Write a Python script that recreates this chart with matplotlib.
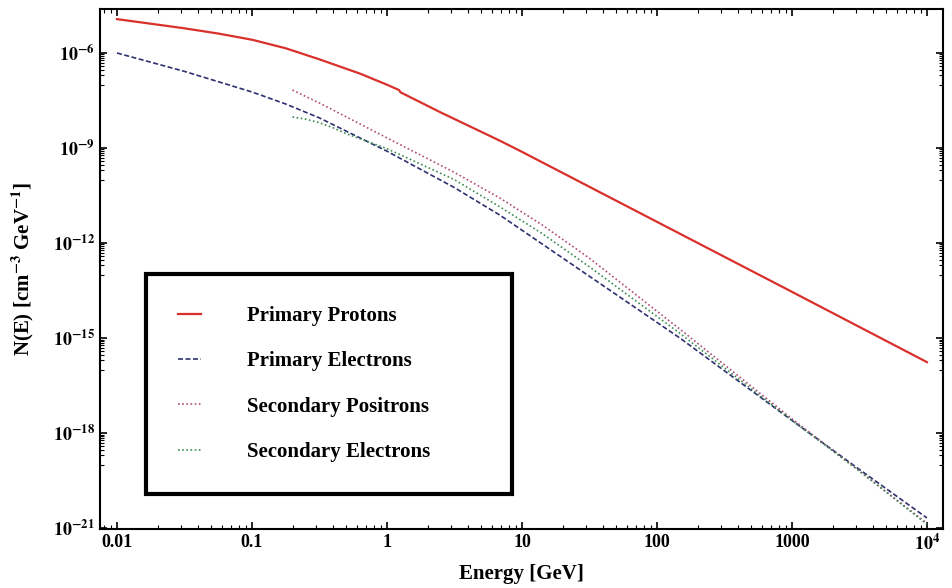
import numpy as np
import matplotlib
matplotlib.use('Agg')
import matplotlib.pyplot as plt
from matplotlib.ticker import FixedLocator, NullFormatter, LogLocator

# values, log10(E/GeV) and log10(N / cm^-3 GeV^-1)
logE_prot = [-2.0, -1.5, -1.25, -1.0, -0.75, -0.5, -0.2, 0.0, 0.09, 0.10, 0.4, 0.837, 1.0, 2.0, 3.0, 4.0]
logN_prot = [-4.93, -5.22, -5.385, -5.58, -5.85, -6.2, -6.65, -7.00, -7.17, -7.24, -7.88, -8.77, -9.12, -11.33, -13.54, -15.76]

logE_elec = [-2.0, -1.5, -1.0, -0.75, -0.5, 0.0, 0.5, 0.837, 1.5, 2.17, 3.0, 3.5, 4.0]
logN_elec = [-6.0, -6.58, -7.23, -7.61, -8.05, -9.1, -10.25, -11.12, -13.05, -15.0, -17.6, -19.15, -20.68]

logE_pos = [-0.7, -0.5, 0.0, 0.5, 0.837, 1.15, 1.5, 2.17, 3.0, 3.5, 4.0]
logN_pos = [-7.17, -7.58, -8.68, -9.77, -10.58, -11.43, -12.48, -14.72, -17.55, -19.2, -20.85]

logE_sec = [-0.7, -0.6, -0.5, -0.4, -0.3, 0.0, 0.5, 0.837, 1.15, 1.5, 2.17, 3.0, 3.5, 4.0]
logN_sec = [-8.02, -8.09, -8.2, -8.36, -8.55, -9.02, -10.0, -10.86, -11.7, -12.75, -14.85, -17.6, -19.2, -20.88]

labels = ['Primary Protons', 'Primary Electrons', 'Secondary Positrons', 'Secondary Electrons']

xticks = [0.01, 0.1, 1, 10, 100, 1000, 1e4]
xticklabels = ['0.01', '0.1', '1', '10', '100', '1000', r'$10^4$']
yexp = [-6, -9, -12, -15, -18, -21]

plt.rcParams['font.family'] = 'serif'
plt.rcParams['font.serif'] = ['Liberation Serif', 'DejaVu Serif']
plt.rcParams['mathtext.fontset'] = 'stix'
plt.rcParams['mathtext.default'] = 'bf'
plt.rcParams['font.weight'] = 'bold'

fig = plt.figure(figsize=(9.53, 5.88), dpi=100)
ax = fig.add_axes([0.1049, 0.1003, 0.8846, 0.8844])

ax.plot(10**np.array(logE_prot), 10**np.array(logN_prot), color='#d9302c', lw=1.6, label=labels[0])
ax.plot(10**np.array(logE_elec), 10**np.array(logN_elec), color='#2e3070', lw=1.2,
        dashes=(3, 1.5), label=labels[1])
ax.plot(10**np.array(logE_pos), 10**np.array(logN_pos), color='#b04a78', lw=1.2,
        dashes=(1, 1.5), label=labels[2])
ax.plot(10**np.array(logE_sec), 10**np.array(logN_sec), color='#3c8c50', lw=1.2,
        dashes=(1, 1.5), label=labels[3])

ax.set_xscale('log')
ax.set_yscale('log')
ax.set_xlim(10**-2.126, 10**4.119)
ax.set_ylim(10**-21.03, 10**-4.61)

ax.set_xticks(xticks)
ax.set_xticklabels(xticklabels)
ax.xaxis.set_minor_locator(LogLocator(base=10, subs=np.arange(2, 10), numticks=50))
ax.xaxis.set_minor_formatter(NullFormatter())

ax.set_yticks([10.0**k for k in yexp])
ax.set_yticklabels([r'$10^{%d}$' % k for k in yexp])
yminor = [m * 10.0**(k - 1) for k in yexp for m in range(2, 10)] + [10.0**(k - 1) for k in yexp]
ax.yaxis.set_minor_locator(FixedLocator(yminor))
ax.yaxis.set_minor_formatter(NullFormatter())

ax.tick_params(which='both', direction='in', top=True, right=True, labelsize=13)
ax.tick_params(which='major', length=5, width=1.2)
ax.tick_params(which='minor', length=3, width=0.8)
for s in ax.spines.values():
    s.set_linewidth(1.5)

ax.set_xlabel('Energy [GeV]', fontsize=15, fontweight='bold', labelpad=7)
ax.set_ylabel(r'N(E) [cm$^{-3}$ GeV$^{-1}$]', fontsize=15, fontweight='bold', labelpad=12)

leg = ax.legend(loc='lower left', bbox_to_anchor=(0.0546, 0.067, 0.4346, 0.427), mode='expand',
                fontsize=15, frameon=True, fancybox=False, framealpha=1, borderpad=1.55,
                labelspacing=1.21, handlelength=1.1, handletextpad=2.2, borderaxespad=0)
leg.get_frame().set_edgecolor('black')
leg.get_frame().set_linewidth(3)

fig.savefig('out.png', dpi=100)
